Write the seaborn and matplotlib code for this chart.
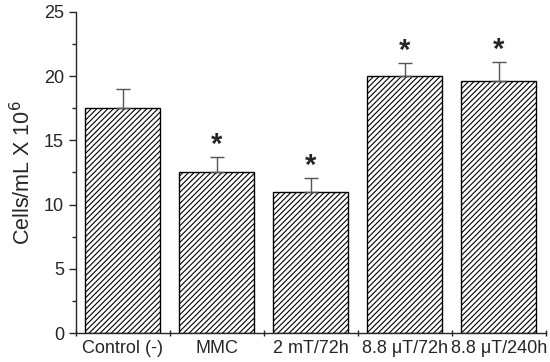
import numpy as np
import pandas as pd
import matplotlib
matplotlib.use("Agg")
import matplotlib.pyplot as plt
import seaborn as sns
from matplotlib.ticker import MultipleLocator, FixedLocator

# ----------------------------
# Data
# ----------------------------
groups = ["Control (-)", "MMC", "2 mT/72h", "8.8 \u03bcT/72h", "8.8 \u03bcT/240h"]
cells = [17.5, 12.5, 11.0, 20.0, 19.6]
err = [1.5, 1.2, 1.1, 1.0, 1.5]
significant = [False, True, True, True, True]

df = pd.DataFrame({"group": groups, "cells": cells})

# ----------------------------
# Figure
# ----------------------------
sns.set_theme(style="ticks")
plt.rcParams["font.family"] = ["Liberation Sans", "DejaVu Sans"]
plt.rcParams["hatch.linewidth"] = 0.8

fig, ax = plt.subplots(figsize=(5.5, 3.62), dpi=100)
sns.barplot(data=df, x="group", y="cells", color="white", edgecolor="black",
            linewidth=1.0, width=0.8, errorbar=None, ax=ax)
for bar in ax.patches:
    bar.set_hatch("//////")

x = np.arange(len(groups))
ax.errorbar(x, cells, yerr=[np.zeros(len(err)), err], fmt="none",
            ecolor="#555555", elinewidth=1.0, capsize=5, capthick=1.0, zorder=1)
for xi, v, e, s in zip(x, cells, err, significant):
    if s:
        ax.text(xi, v + e - 0.15, "*", ha="center", va="bottom",
                fontsize=21, fontweight="bold")

ax.set_xlim(-0.5, 4.5)
ax.set_ylim(0, 25)
ax.yaxis.set_major_locator(MultipleLocator(5))
ax.yaxis.set_minor_locator(MultipleLocator(2.5))
ax.xaxis.set_major_locator(FixedLocator(x))
ax.xaxis.set_minor_locator(FixedLocator(np.arange(-0.5, 5.0, 1.0)))
ax.tick_params(axis="x", which="major", length=0, labelsize=13, pad=5)
ax.tick_params(axis="x", which="minor", length=5, width=1.0, direction="inout")
ax.tick_params(axis="y", which="major", length=5, width=1.0, labelsize=13)
ax.tick_params(axis="y", which="minor", length=3, width=1.0)
ax.set_xlabel("")
ax.set_ylabel("Cells/mL X 10$^6$", fontsize=15.5, labelpad=6)
sns.despine(ax=ax)
for sp in ax.spines.values():
    sp.set_linewidth(1.0)

fig.subplots_adjust(left=0.138, right=0.992, top=0.967, bottom=0.08)
fig.savefig("out.png", dpi=100)
plt.close(fig)
